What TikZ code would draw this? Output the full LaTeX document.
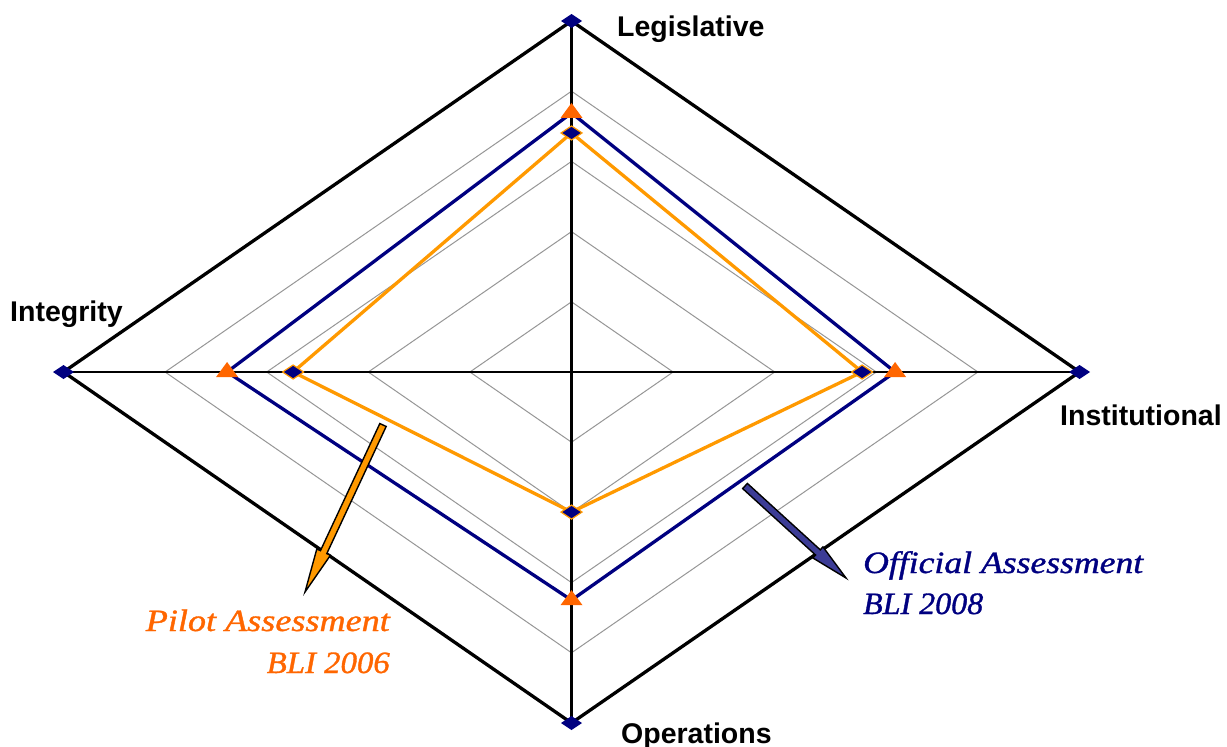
\documentclass[tikz,border=0pt]{standalone}
\usepackage{fontspec}
\usepackage{graphicx}
\usetikzlibrary{calc}
\newfontfamily\labfont{Liberation Sans}
\newfontfamily\serfont{Liberation Serif}[ItalicFeatures={FakeBold=1.1}]
\definecolor{navy}{RGB}{0,0,128}
\definecolor{lineorange}{RGB}{255,153,0}
\definecolor{triorange}{RGB}{255,102,0}
\definecolor{gridgray}{RGB}{150,150,150}
\definecolor{slateblue}{RGB}{60,60,150}
\newcommand\radpoly[4]{(0,{-351*#1}) -- ({508*#2},0) -- (0,{351*#3}) -- ({-508*#4},0) -- cycle}
\tikzset{
  gridline/.style={draw=gridgray, line width=1pt},
  axisline/.style={draw=black, line width=2.1pt},
  outerline/.style={draw=black, line width=3.3pt, line join=miter},
  blueseries/.style={draw=navy, line width=3.3pt, line join=miter},
  orangeseries/.style={draw=lineorange, line width=3.3pt, line join=miter},
  axislabel/.style={font=\labfont\bfseries\fontsize{28.5}{30}\selectfont, anchor=base west, inner sep=0pt},
  leglabel/.style={font=\serfont\itshape\fontsize{31}{33}\selectfont, inner sep=0pt},
  callout/.style={draw=black, line width=1.4pt, line join=miter},
}
\newcommand\diamark[2]{\filldraw[fill=navy, #2] (#1) +(-10.5,0) -- +(0,-7) -- +(10.5,0) -- +(0,7) -- cycle;}
\newcommand\trimark[1]{\fill[triorange] (#1) +(0,-10) -- +(11,5) -- +(-11,5) -- cycle;}
\begin{document}
\begin{tikzpicture}[x=1pt,y=-1pt]
\useasboundingbox (0,0) rectangle (1227,747);
\begin{scope}[shift={(571.5,372)}]
  \foreach \f in {0.2,0.4,0.6,0.8}
    \draw[gridline] \radpoly{\f}{\f}{\f}{\f};
  \coordinate (c) at (0,0);
  \coordinate (otop) at (0,-351);
  \coordinate (oright) at (508,0);
  \coordinate (obottom) at (0,351);
  \coordinate (oleft) at (-508,0);
  \draw[axisline] (otop) -- (obottom);
  \draw[axisline] (oleft) -- (oright);
  \draw[outerline] (otop) -- (oright) -- (obottom) -- (oleft) -- cycle;
  % 2008 series
  \coordinate (btop) at (0,{-351*0.738});
  \coordinate (bright) at ({508*0.637},0);
  \coordinate (bbottom) at (0,{351*0.65});
  \coordinate (bleft) at ({-508*0.678},0);
  % 2006 series
  \coordinate (atop) at (0,{-351*0.681});
  \coordinate (aright) at ({508*0.572},0);
  \coordinate (abottom) at (0,{351*0.399});
  \coordinate (aleft) at ({-508*0.548},0);
  \draw[blueseries] (btop) -- (bright) -- (bbottom) -- (bleft) -- cycle;
  \draw[orangeseries] (atop) -- (aright) -- (abottom) -- (aleft) -- cycle;
  \foreach \p in {btop,bright,bbottom,bleft} { \trimark{\p} }
  \foreach \p in {atop,aright,abottom,aleft} { \diamark{\p}{draw=lineorange, line width=1.2pt} }
  \foreach \p in {otop,oright,obottom,oleft} { \diamark{\p}{draw=none} }
\end{scope}
% labels
\node[axislabel] (legis) at (617,36) {Legislative};
\node[axislabel] (integ) at (10,321) {Integrity};
\node[axislabel] (instit) at (1060,425) {Institutional};
\node[axislabel] (oper) at (621,743) {Operations};
\node[leglabel, text=triorange, anchor=base east] (pilot1) at (390,631) {\resizebox{244pt}{\height}{Pilot Assessment}};
\node[leglabel, text=triorange, anchor=base east] (pilot2) at (390,673) {\resizebox{123pt}{\height}{BLI 2006}};
\node[leglabel, text=navy, anchor=base west] (off1) at (863,573) {\resizebox{280pt}{\height}{Official Assessment}};
\node[leglabel, text=navy, anchor=base west] (off2) at (863,614) {\resizebox{120pt}{\height}{BLI 2008}};
% callout arrows
\coordinate (ptail) at (383,425);
\coordinate (ptip) at (305,592);
\coordinate (phead) at ($(ptip)!44pt!(ptail)$);
\filldraw[callout, fill=lineorange]
  ($(ptail)!3.5pt!90:(ptip)$) -- ($(phead)!3.5pt!-90:(ptail)$) -- ($(phead)!7.5pt!-90:(ptail)$)
  -- (ptip) -- ($(phead)!7.5pt!90:(ptail)$) -- ($(phead)!3.5pt!90:(ptail)$)
  -- ($(ptail)!3.5pt!-90:(ptip)$) -- cycle;
\coordinate (otail) at (745,486);
\coordinate (otip) at (846,578);
\coordinate (ohead) at ($(otip)!38pt!(otail)$);
\filldraw[callout, fill=slateblue]
  ($(otail)!3.5pt!90:(otip)$) -- ($(ohead)!3.5pt!-90:(otail)$) -- ($(ohead)!7.5pt!-90:(otail)$)
  -- (otip) -- ($(ohead)!7.5pt!90:(otail)$) -- ($(ohead)!3.5pt!90:(otail)$)
  -- ($(otail)!3.5pt!-90:(otip)$) -- cycle;
\end{tikzpicture}
\end{document}
